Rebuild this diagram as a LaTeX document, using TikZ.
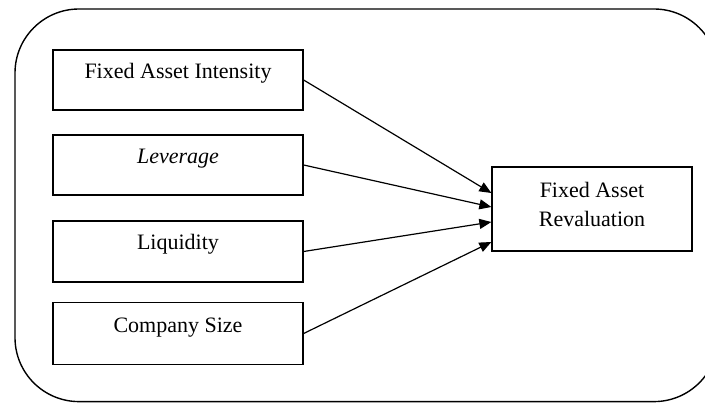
\documentclass[tikz,border=0pt]{standalone}
\usepackage{fontspec}
\setmainfont{Liberation Serif}
\usetikzlibrary{arrows.meta}
\begin{document}
\begin{tikzpicture}[x=1pt,y=-1pt,
  varbox/.style={draw, line width=1.3pt, inner sep=0pt, minimum width=250pt,
    text height=29pt, text depth=31pt, font=\fontsize{22}{29}\selectfont},
  revbox/.style={draw, line width=1.3pt, inner sep=0pt, minimum width=200pt,
    minimum height=84pt, align=center, font=\fontsize{22}{29}\selectfont},
  conn/.style={line width=1.2pt, -{Triangle[length=12pt,width=10pt]}}]
\useasboundingbox (0,0) rectangle (705,403);
\begin{scope}
\clip (0,0) rectangle (705,403);
\draw[line width=1.4pt, rounded corners=64pt] (15,9) rectangle (718,401.6);
\end{scope}
\node[varbox] (fai) at (178,80) {Fixed Asset Intensity};
\node[varbox] (lev) at (178,165) {\itshape Leverage};
\node[varbox, text depth=32pt] (liq) at (178,251.5) {Liquidity};
\node[varbox, text depth=32pt, text height=30pt] (siz) at (178,333.5) {Company Size};
\node[revbox] (rev) at (592,209) {Fixed Asset\\Revaluation\rule[-10pt]{0pt}{0pt}};
\draw[conn] (fai.east) -- ([yshift=16pt]rev.west);
\draw[conn] (lev.east) -- ([yshift=2pt]rev.west);
\draw[conn] (liq.east) -- ([yshift=-13pt]rev.west);
\draw[conn] (siz.east) -- ([yshift=-33pt]rev.west);
\end{tikzpicture}
\end{document}
